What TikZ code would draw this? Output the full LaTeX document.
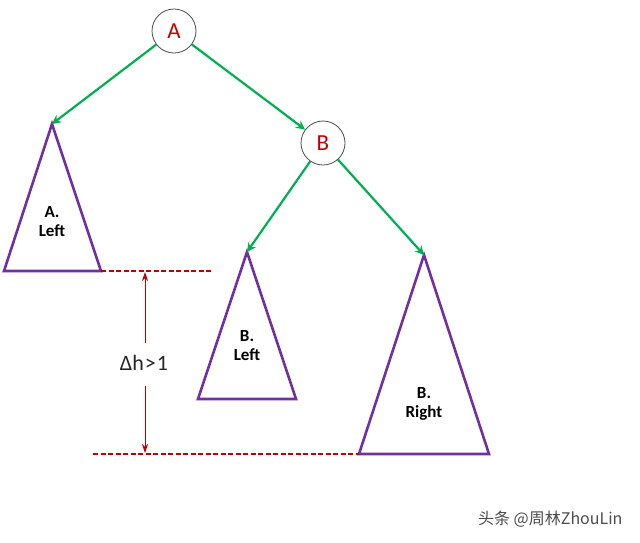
\documentclass[tikz,border=0pt]{standalone}
\usepackage{fontspec}
\setmainfont{Carlito}
\newfontfamily\cjk{Noto Sans CJK SC}
\usetikzlibrary{arrows.meta}
\definecolor{grn}{HTML}{00B050}
\definecolor{purp}{HTML}{7030A0}
\definecolor{dred}{HTML}{C00000}
\begin{document}
\begin{tikzpicture}[x=1pt,y=-1pt,
  treenode/.style={circle,draw=black!70,line width=0.8pt,minimum size=44pt,inner sep=0pt,text=dred,font=\fontsize{23}{23}\selectfont},
  edge/.style={draw=grn,line width=2.2pt,-{Stealth[length=9pt,width=9pt]}},
  subtree/.style={draw=purp,line width=2.6pt,line join=miter},
  tlabel/.style={align=center,font=\bfseries\fontsize{17}{19}\selectfont},
  dashl/.style={draw=dred,line width=1.4pt,dash pattern=on 5pt off 2.5pt},
  harrow/.style={draw=dred,line width=0.9pt,-{Stealth[length=9pt,width=6pt]}}]
\useasboundingbox (0,0) rectangle (640,542);
\fill[white] (0,0) rectangle (640,542);
\node[treenode] (A) at (174,31) {A};
\node[treenode] (B) at (323,143) {B};
% subtrees
\coordinate (ALt) at (52,124);
\coordinate (ALl) at (4,271);
\coordinate (ALr) at (101,271);
\draw[subtree] (ALt) -- (ALl) -- (ALr) -- cycle;
\node[tlabel] (ALlab) at (52,222) {A.\\Left};
\coordinate (BLt) at (247,252);
\coordinate (BLl) at (198,399);
\coordinate (BLr) at (296,399);
\draw[subtree] (BLt) -- (BLl) -- (BLr) -- cycle;
\node[tlabel] (BLlab) at (247,346) {B.\\Left};
\coordinate (BRt) at (424,255);
\coordinate (BRl) at (359,454);
\coordinate (BRr) at (489,454);
\draw[subtree] (BRt) -- (BRl) -- (BRr) -- cycle;
\node[tlabel] (BRlab) at (424,404) {B.\\Right};
% edges
\draw[edge] (A) -- (ALt);
\draw[edge] (A) -- (B);
\draw[edge] (B) -- (BLt);
\draw[edge] (B) -- (BRt);
% height difference
\coordinate (d1e) at (212,271);
\coordinate (d2s) at (93,454);
\draw[dashl] (ALr) -- (d1e);
\draw[dashl] (d2s) -- (BRl);
\node[font=\fontsize{22}{22}\selectfont,text=black!85,inner sep=1pt] (dh) at (144,363) {Δh\kern1pt>\kern1pt1};
\coordinate (top) at (145,272);
\coordinate (bot) at (145,453);
\coordinate (upstart) at (145,343);
\coordinate (downstart) at (145,386);
\draw[harrow] (upstart) -- (top);
\draw[harrow] (downstart) -- (bot);
\node[font=\cjk\fontsize{16}{16}\selectfont,text=black!70,anchor=east] (wm) at (626,519) {头条 @周林ZhouLin};
\end{tikzpicture}
\end{document}
